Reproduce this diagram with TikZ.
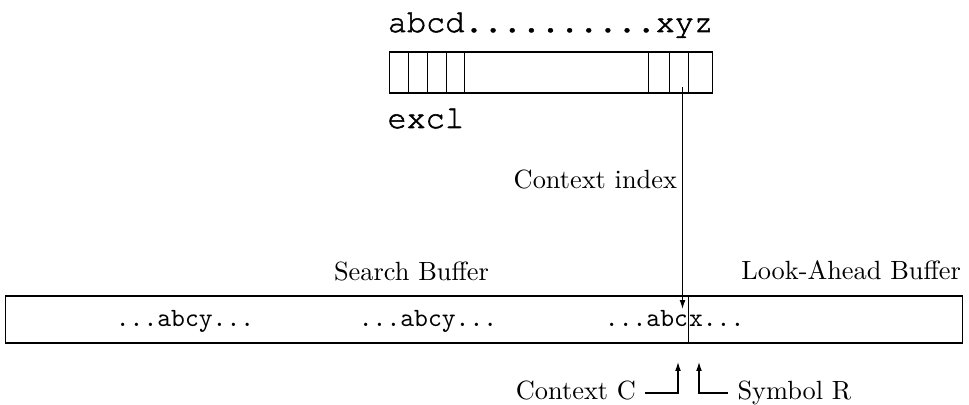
\documentclass[tikz,border=0pt]{standalone}
\usetikzlibrary{arrows.meta}
\newcommand{\courfont}{\fontencoding{OT1}\fontfamily{pcr}\selectfont}
\newcommand{\heavytxt}[1]{\special{pdf:literal direct 2 Tr 0.2 w}#1\special{pdf:literal direct 0 Tr}}
\begin{document}
\begin{tikzpicture}[x=0.3795pt,y=-0.3795pt,
  cell/.style={draw,inner sep=0pt,minimum height=41*0.3795pt,anchor=west},
  lbl/.style={inner sep=0pt,font=\normalsize},
  ttl/.style={inner sep=0pt,font=\ttfamily\normalsize},
  big/.style={inner sep=0pt,font=\fontsize{12.1}{14}\courfont},
  arr/.style={-{Latex[length=3.4pt,width=2.2pt]}}]
\useasboundingbox (0,0) rectangle (969,405);
% top string
\node[big,anchor=base] (str) at (550.5,32) {\heavytxt{abcd..........xyz}};
% top array cells
\node[cell,minimum width=19*0.3795pt] (c1) at (389,72.5) {};
\node[cell,minimum width=19*0.3795pt] (c2) at (408,72.5) {};
\node[cell,minimum width=19*0.3795pt] (c3) at (427,72.5) {};
\node[cell,minimum width=18*0.3795pt] (c4) at (446,72.5) {};
\node[cell,minimum width=184*0.3795pt] (c5) at (464,72.5) {};
\node[cell,minimum width=21*0.3795pt] (c6) at (648,72.5) {};
\node[cell,minimum width=19*0.3795pt] (c7) at (669,72.5) {};
\node[cell,minimum width=24*0.3795pt] (c8) at (688,72.5) {};
\node[big,anchor=base west] (excl) at (387,128) {\heavytxt{excl}};
% context index arrow
\coordinate (ciS) at (682.5,87);
\coordinate (ciE) at (682.5,309);
\draw[arr] (ciS) -- (ciE);
\node[lbl,anchor=base east] (cilab) at (677.5,189) {Context index};
% buffer
\node[draw,inner sep=0pt,minimum width=957*0.3795pt,minimum height=47*0.3795pt,anchor=west] (buf) at (5,319.5) {};
\coordinate (divT) at (688.5,296);
\coordinate (divB) at (688.5,343);
\draw (divT) -- (divB);
\node[lbl,anchor=base] (sb) at (411.5,281) {Search Buffer};
\node[lbl,anchor=base east] (lab) at (961.5,280) {Look-Ahead Buffer};
\node[ttl,anchor=base] (t1) at (185,327) {...abcy...};
\node[ttl,anchor=base] (t2) at (428,327) {...abcy...};
\node[ttl,anchor=base east] (t3a) at (688.5,327) {...abc};
\node[ttl,anchor=base west] (t3b) at (688.5,327) {x...};
% bottom arrows
\node[lbl,anchor=base east] (cc) at (636.5,400) {Context C};
\coordinate (ccA) at (645,393);
\coordinate (ccB) at (678,393);
\coordinate (ccT) at (678,362);
\draw[arr] (ccA) -- (ccB) -- (ccT);
\node[lbl,anchor=base west] (sr) at (737,400) {Symbol R};
\coordinate (srA) at (728,393);
\coordinate (srB) at (699,393);
\coordinate (srT) at (699,362);
\draw[arr] (srA) -- (srB) -- (srT);
\end{tikzpicture}
\end{document}
